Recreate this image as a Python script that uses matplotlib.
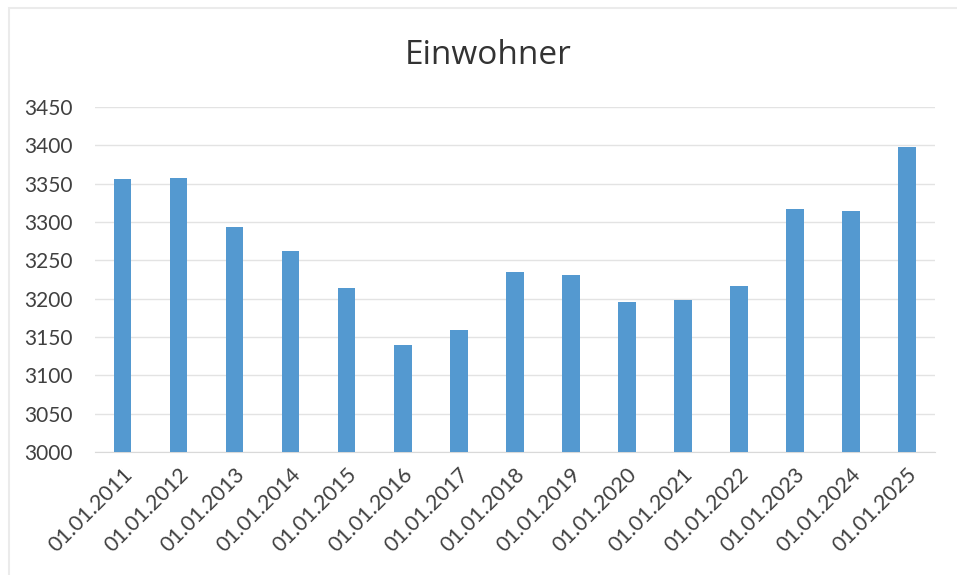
import matplotlib
matplotlib.use("Agg")
import matplotlib.pyplot as plt
from matplotlib.patches import Rectangle
import numpy as np

categories = ["01.01.2011", "01.01.2012", "01.01.2013", "01.01.2014", "01.01.2015",
              "01.01.2016", "01.01.2017", "01.01.2018", "01.01.2019", "01.01.2020",
              "01.01.2021", "01.01.2022", "01.01.2023", "01.01.2024", "01.01.2025"]
einwohner = [3356, 3357, 3293, 3262, 3214, 3140, 3159, 3235, 3231, 3196,
             3198, 3216, 3317, 3314, 3398]
yticks = [3000, 3050, 3100, 3150, 3200, 3250, 3300, 3350, 3400, 3450]

plt.rcParams['font.family'] = ['Lato', 'DejaVu Sans']

fig = plt.figure(figsize=(9.57, 5.75), dpi=100)
fig.patches.append(Rectangle((0.009, -0.05), 1.2, 1.036, transform=fig.transFigure,
                             fill=False, edgecolor='#EBEBEB', linewidth=1.5))
ax = fig.add_axes([0.099, 0.214, 0.878, 0.600])

x = np.arange(len(categories))
ax.bar(x, einwohner, width=0.31, color='#5499D0', zorder=3)

ax.set_ylim(3000, 3450)
ax.set_xlim(-0.5, len(categories) - 0.5)
ax.set_yticks(yticks)
ax.set_yticklabels([str(v) for v in yticks], fontsize=15, color='#404040')
ax.set_xticks(x)
ax.set_xticklabels(categories, rotation=45, ha='right', rotation_mode='anchor',
                   fontsize=15.5, color='#404040')
ax.tick_params(axis='both', length=0)
ax.tick_params(axis='y', pad=16)
ax.tick_params(axis='x', pad=9)
ax.grid(axis='y', color='#E3E3E3', linewidth=1.0, zorder=0)
for s in ['top', 'right', 'left']:
    ax.spines[s].set_visible(False)
ax.spines['bottom'].set_color('#D9D9D9')

fig.text(0.51, 0.904, "Einwohner", ha='center', va='center', fontsize=24,
         color='#333333', family=['Open Sans', 'DejaVu Sans'])

fig.savefig("out.png", dpi=100)
